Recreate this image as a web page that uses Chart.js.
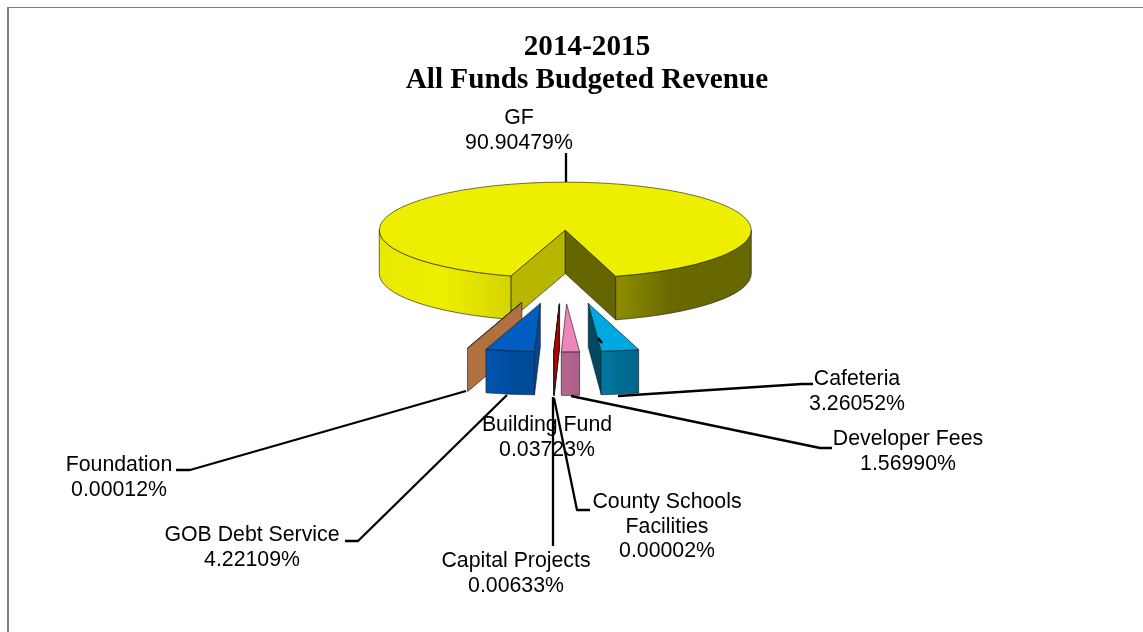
<!DOCTYPE html>
<html>
<head>
<meta charset="utf-8">
<style>
  html, body { margin: 0; padding: 0; background: #fff; }
  #wrap { position: relative; width: 1143px; height: 632px; }
</style>
<script src="https://cdn.jsdelivr.net/npm/chart.js@4/dist/chart.umd.min.js"></script>
</head>
<body>
<div id="wrap"><canvas id="chart" width="1143" height="632"></canvas></div>
<script>
// Fund names, clockwise from the General Fund
const categories = ['GF', 'Cafeteria', 'Developer Fees', 'County Schools Facilities',
  'Capital Projects', 'Building Fund', 'GOB Debt Service', 'Foundation'];
// Share of budgeted revenue, percent
const shares = [90.90479, 3.26052, 1.5699, 0.00002, 0.00633, 0.03723, 4.22109, 0.00012];
const sliceColors = ['#EEEE00', '#00A8E2', '#EE86BC', '#8A0000', '#8A0000', '#F40000', '#005EC2', '#E59350'];
const titleLines = ['2014-2015', 'All Funds Budgeted Revenue'];

// Pie projection
const PIE = { cx: 563.7, cy: 267, radius: 186, squash: 0.258, depth: 43.5, explode: 143, rotation: 197 };
const WALL_LIT = 0.77, WALL_DARK = 0.43;
// Brightness of the rim by direction, degrees away from straight down
const RIM_SHADE = [[-90, .97], [-60, .99], [-40, 1], [-17, .89], [0, .75], [16, .6], [34, .44], [90, .43]];

// Label text layout: centre x, first line y
const LABELS = {
  'GF': { x: 519, y: 118 },
  'Cafeteria': { x: 857, y: 379 },
  'Developer Fees': { x: 908, y: 439 },
  'County Schools Facilities': { x: 667, y: 502, lines: ['County Schools', 'Facilities'] },
  'Capital Projects': { x: 516, y: 561 },
  'Building Fund': { x: 547, y: 425 },
  'GOB Debt Service': { x: 252, y: 535 },
  'Foundation': { x: 119, y: 465 }
};
const LEADERS = [
  [[566, 153], [566, 182]],
  [[618, 396], [802, 384], [813, 384]],
  [[571, 396], [820, 448], [832, 448]],
  [[554, 398], [577, 510], [590, 510]],
  [[553, 397], [553, 546]],
  [[598, 338], [602, 343]],
  [[507, 395], [358, 541], [345, 541]],
  [[466, 391], [190, 470], [176, 470]]
];

function scaleColor(hex, f) {
  const n = parseInt(hex.slice(1), 16);
  const c = [n >> 16, (n >> 8) & 255, n & 255].map(v => Math.min(255, Math.round(v * f)));
  return `rgb(${c[0]},${c[1]},${c[2]})`;
}

function rimShade(deg) {
  for (let i = 1; i < RIM_SHADE.length; i++) {
    const [d0, s0] = RIM_SHADE[i - 1], [d1, s1] = RIM_SHADE[i];
    if (deg <= d1) return s0 + (s1 - s0) * Math.max(0, deg - d0) / (d1 - d0);
  }
  return RIM_SHADE[RIM_SHADE.length - 1][1];
}

const pie3d = {
  id: 'pie3d',
  beforeDraw(chart) {
    // Frame around the chart area
    const ctx = chart.ctx;
    ctx.save();
    ctx.fillStyle = '#808080';
    ctx.fillRect(7, 7, 2, 625);
    ctx.fillRect(7, 7, 1136, 1);
    ctx.restore();
  },
  beforeDatasetsDraw(chart) {
    const ctx = chart.ctx;
    const arcs = chart.getDatasetMeta(0).data;
    // Back to front: the big slice, then the small ones from left to right
    const order = [0, 7, 6, 3, 4, 5, 2, 1];
    const edge = 'rgba(30,30,30,0.8)';

    order.forEach(i => {
      const arc = arcs[i];
      const { startAngle: a0, endAngle: a1, outerRadius: R } = arc.getProps(['startAngle', 'endAngle', 'outerRadius']);
      const mid = (a0 + a1) / 2;
      const ax = PIE.cx + Math.cos(mid) * PIE.explode;
      const ay = PIE.cy + Math.sin(mid) * PIE.explode * PIE.squash;
      const base = sliceColors[i];
      const d = PIE.depth;
      const px = a => ax + Math.cos(a) * R;
      const py = a => ay + Math.sin(a) * R * PIE.squash;

      const wall = (a, shade) => {
        ctx.beginPath();
        ctx.moveTo(ax, ay);
        ctx.lineTo(px(a), py(a));
        ctx.lineTo(px(a), py(a) + d);
        ctx.lineTo(ax, ay + d);
        ctx.closePath();
        ctx.fillStyle = scaleColor(base, shade);
        ctx.fill();
        ctx.lineWidth = 0.8;
        ctx.strokeStyle = edge;
        ctx.stroke();
      };

      // Cut faces that turn towards the viewer
      if (Math.cos(a0) < 0) wall(a0, WALL_LIT);
      if (Math.cos(a1) > 0) wall(a1, WALL_DARK);

      // Outer rim, only along the near half of the ellipse
      for (let n = -1; n <= 2; n++) {
        const lo = Math.max(a0, 2 * Math.PI * n);
        const hi = Math.min(a1, 2 * Math.PI * n + Math.PI);
        if (hi - lo < 1e-4) continue;
        const x0 = px(hi), x1 = px(lo);
        const grad = ctx.createLinearGradient(x0, 0, x1, 0);
        for (let s = 0; s <= 12; s++) {
          const a = hi + (lo - hi) * s / 12;
          const t = x1 > x0 ? (px(a) - x0) / (x1 - x0) : 0;
          const deg = (Math.PI / 2 - (a - 2 * Math.PI * n)) * 180 / Math.PI;
          grad.addColorStop(Math.min(1, Math.max(0, t)), scaleColor(base, rimShade(deg)));
        }
        ctx.beginPath();
        ctx.ellipse(ax, ay, R, R * PIE.squash, 0, lo, hi);
        ctx.ellipse(ax, ay + d, R, R * PIE.squash, 0, hi, lo, true);
        ctx.closePath();
        ctx.fillStyle = grad;
        ctx.fill();
        ctx.lineWidth = 0.8;
        ctx.strokeStyle = edge;
        ctx.stroke();
      }

      // Top face comes from the arc element itself, under the projection
      ctx.save();
      ctx.translate(ax, ay);
      ctx.scale(1, PIE.squash);
      ctx.translate(-arc.x, -arc.y);
      arc.draw(ctx);
      ctx.restore();

      ctx.beginPath();
      ctx.moveTo(ax, ay);
      ctx.ellipse(ax, ay, R, R * PIE.squash, 0, a0, a1);
      ctx.closePath();
      ctx.lineWidth = 0.8;
      ctx.strokeStyle = edge;
      ctx.stroke();
    });

    // Leader lines
    ctx.save();
    ctx.strokeStyle = '#000';
    ctx.lineWidth = 2.3;
    ctx.lineJoin = 'round';
    LEADERS.forEach(path => {
      ctx.beginPath();
      path.forEach(([x, y], k) => k ? ctx.lineTo(x, y) : ctx.moveTo(x, y));
      ctx.stroke();
    });
    ctx.restore();

    // Category and percentage labels
    ctx.save();
    ctx.font = '21.3px "Liberation Sans", Arial, sans-serif';
    ctx.fillStyle = '#000';
    ctx.textAlign = 'center';
    ctx.textBaseline = 'middle';
    categories.forEach((name, i) => {
      const spot = LABELS[name];
      const rows = (spot.lines || [name]).concat(shares[i].toFixed(5) + '%');
      rows.forEach((row, r) => ctx.fillText(row, spot.x, spot.y + r * 24.8));
    });
    ctx.restore();
    return false;
  }
};

new Chart(document.getElementById('chart'), {
  type: 'pie',
  data: {
    labels: categories,
    datasets: [{ data: shares, backgroundColor: sliceColors, borderWidth: 0 }]
  },
  options: {
    responsive: false,
    animation: false,
    rotation: PIE.rotation,
    radius: PIE.radius,
    layout: { padding: { left: 31, right: 0, top: 0, bottom: 0 } },
    plugins: {
      legend: { display: false },
      tooltip: { enabled: false },
      title: {
        display: true,
        text: titleLines,
        color: '#000',
        font: { family: '"Liberation Serif", "Times New Roman", serif', size: 29.2, weight: 'bold', lineHeight: 1.14 },
        padding: { top: 31, bottom: 10 }
      }
    }
  },
  plugins: [pie3d]
});
</script>
</body>
</html>
